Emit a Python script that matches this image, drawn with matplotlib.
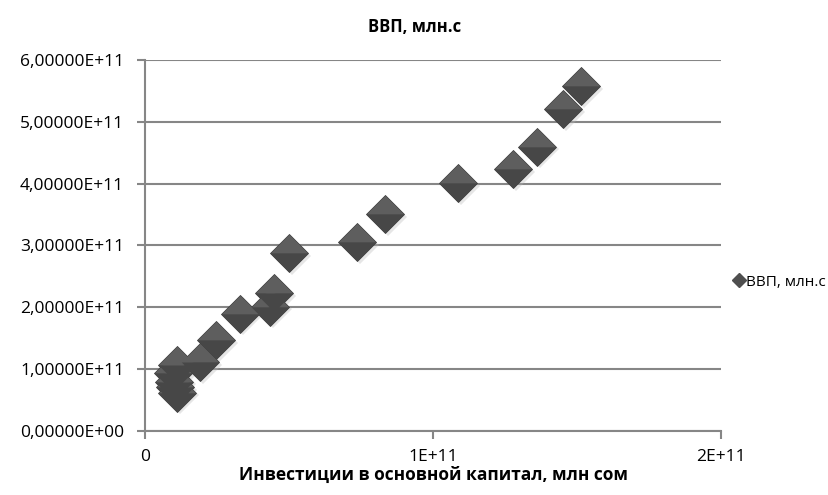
import matplotlib
matplotlib.use("Agg")
import matplotlib.pyplot as plt
import matplotlib.transforms as mtransforms
from matplotlib.ticker import FuncFormatter, MultipleLocator
from matplotlib.lines import Line2D

plt.rcParams['font.family'] = ['Open Sans', 'DejaVu Sans']

# investments (x) and GDP (y)
invest = [1.514e11, 1.451e11, 1.361e11, 1.278e11, 1.087e11, 0.833e11, 0.736e11,
          0.500e11, 0.448e11, 0.434e11, 0.330e11, 0.247e11, 0.191e11,
          0.111e11, 0.098e11, 0.101e11, 0.104e11, 0.110e11]
gdp = [5.58e11, 5.21e11, 4.60e11, 4.24e11, 4.01e11, 3.51e11, 3.06e11,
       2.88e11, 2.23e11, 2.01e11, 1.90e11, 1.47e11, 1.12e11,
       1.07e11, 0.93e11, 0.80e11, 0.71e11, 0.62e11]
series_name = "ВВП, млн.с"
x_label = "Инвестиции в основной капитал, млн сом"

fig = plt.figure(figsize=(8.29, 4.95), dpi=100)
ax = fig.add_axes([0.175, 0.1293, 0.695, 0.7495])

# diamond split in two halves to fake Excel's bevel
tri_top = [(0, 0), (-1, 0), (0, 1), (1, 0)]
tri_bot = [(0, 0), (-1, 0), (0, -1), (1, 0)]
ms = 19.5
shadow = ax.transData + mtransforms.ScaledTranslation(2 / 72, -2 / 72, fig.dpi_scale_trans)

for x, y in reversed(list(zip(invest, gdp))):
    ax.plot([x], [y], marker='D', ms=ms * 0.98, color='#b8b8b8', alpha=0.35,
            markeredgewidth=0, linestyle='none', zorder=3, transform=shadow)
    ax.plot([x], [y], marker='D', ms=ms, color='#4f4f4f', markeredgecolor='#3c3c3c',
            markeredgewidth=0.6, linestyle='none', zorder=4)
    ax.plot([x], [y], marker=tri_top, ms=ms * 1.38, color='#5e5e5e', markeredgewidth=0,
            linestyle='none', zorder=5)
    ax.plot([x], [y], marker=tri_bot, ms=ms * 1.38, color='#474747', markeredgewidth=0,
            linestyle='none', zorder=5)

ax.set_xlim(0, 2e11)
ax.set_ylim(0, 6e11)
ax.xaxis.set_major_locator(MultipleLocator(1e11))
ax.yaxis.set_major_locator(MultipleLocator(1e11))
ax.yaxis.set_major_formatter(FuncFormatter(lambda v, p: f"{v:.5E}".replace('.', ',')))
ax.xaxis.set_major_formatter(FuncFormatter(lambda v, p: "0" if v == 0 else f"{v:.0E}"))

ax.grid(axis='y', color='#868686', linewidth=1.5, zorder=0)
ax.set_axisbelow(True)
for s in ['top', 'right']:
    ax.spines[s].set_visible(False)
for s in ['left', 'bottom']:
    ax.spines[s].set_color('#868686')
    ax.spines[s].set_linewidth(1.5)
ax.tick_params(axis='both', colors='#868686', width=1.5, length=6, labelsize=12.5,
               labelcolor='black')
ax.tick_params(axis='x', pad=7)
ax.tick_params(axis='y', pad=9)

fig.text(0.5, 0.945, series_name, ha='center', va='center', fontsize=12, fontweight='bold')
ax.set_xlabel(x_label, fontsize=12.5, fontweight='bold', labelpad=1)

handle = Line2D([], [], marker='D', ms=7, color='#4f4f4f', linestyle='none')
fig.legend([handle], [series_name], loc='center left', bbox_to_anchor=(0.882, 0.43),
           frameon=False, fontsize=11, handletextpad=0.0, borderaxespad=0,
           borderpad=0, handlelength=1.0)

fig.savefig("out.png", dpi=100)
